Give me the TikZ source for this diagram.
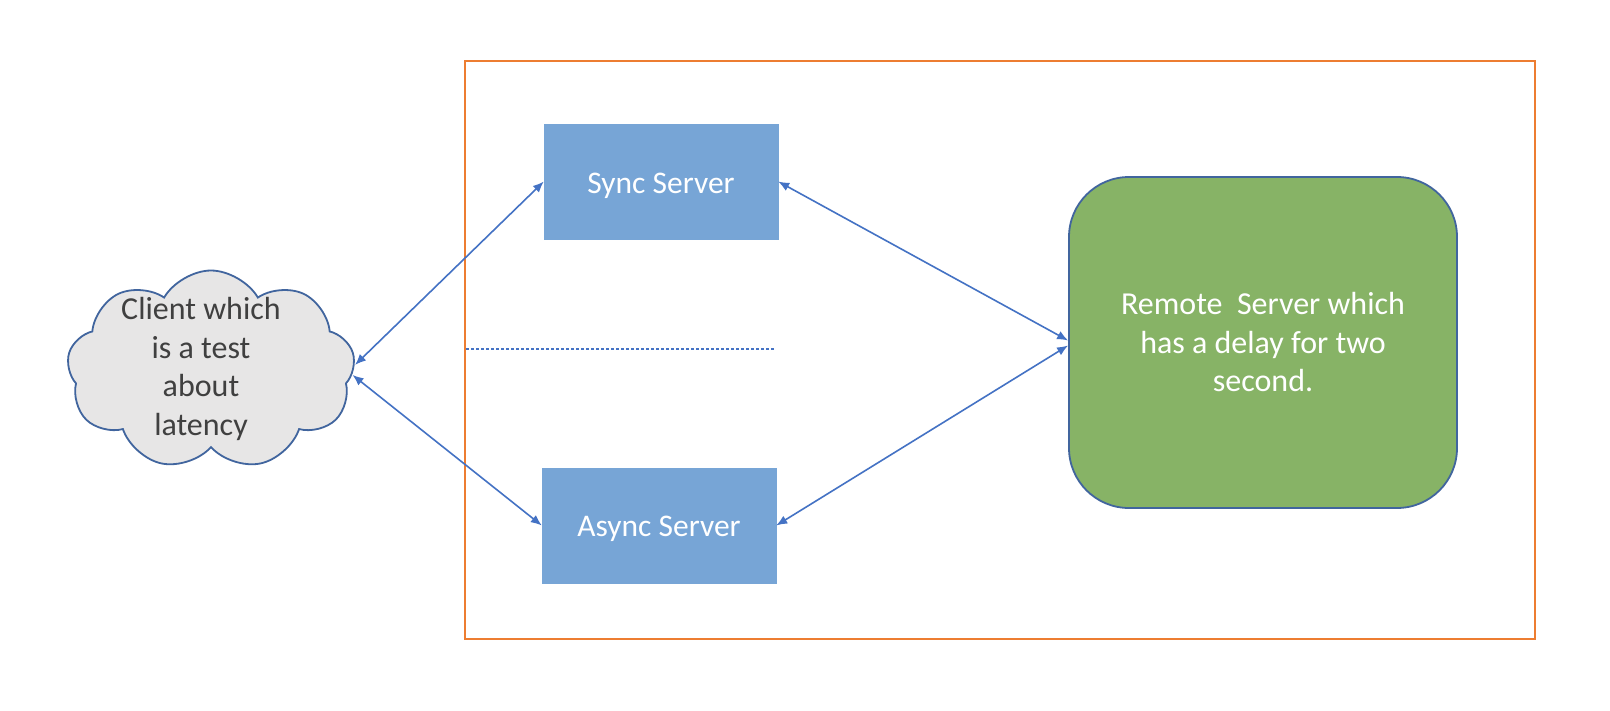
\documentclass[tikz,border=0pt]{standalone}
\usepackage{fontspec}
\setmainfont{Carlito}
\usetikzlibrary{shapes.symbols,arrows.meta,calc}
\definecolor{frameorange}{HTML}{ED7D31}
\definecolor{linkblue}{HTML}{4472C4}
\definecolor{boxblue}{HTML}{77A5D6}
\definecolor{boxgreen}{HTML}{87B366}
\definecolor{edgeblue}{HTML}{41659E}
\definecolor{cloudgray}{HTML}{E7E6E6}
\definecolor{textgray}{HTML}{404040}
\tikzset{
  serverbox/.style={draw=boxblue, fill=boxblue, minimum width=234pt, minimum height=115pt, inner sep=0pt, text=white, font=\fontsize{31.5}{38}\selectfont},
  link/.style={draw=linkblue, line width=1.6pt, {Latex[length=11pt,width=9pt]}-{Latex[length=11pt,width=9pt]}},
}
\begin{document}
\begin{tikzpicture}[x=1pt,y=-1pt]
\useasboundingbox[fill=white] (0,0) rectangle (1610,710);
\node[draw=frameorange, line width=1.8pt, minimum width=1070pt, minimum height=578pt, inner sep=0pt] (frame) at (1000,350) {};
\node[serverbox] (sync) at (661,181.5) {};
\node[text=white, font=\fontsize{31.5}{38}\selectfont] (synctext) at (661,185.5) {Sync Server};
\node[serverbox] (async) at (659,525.5) {};
\node[text=white, font=\fontsize{31.5}{38}\selectfont] (asynctext) at (659,528.5) {Async Server};
\node[draw=edgeblue, line width=1.8pt, fill=boxgreen, rounded corners=60pt, minimum width=388pt, minimum height=331pt, inner sep=0pt, text=white, align=center, font=\fontsize{32}{38.5}\selectfont] (remote) at (1263,342.5) {Remote\ \ Server which\\has a delay for two\\second.};
\node[cloud, cloud puffs=9, cloud puff arc=120, aspect=1.45, draw=edgeblue, line width=1.8pt, fill=cloudgray, minimum width=288pt, minimum height=199pt, inner sep=0pt] (client) at (211,370) {};
\node[text=textgray, align=center, font=\fontsize{32}{38.5}\selectfont] (clienttext) at (201,369) {Client which\\is a test\\about\\latency};
\coordinate (dotstart) at (466,349);
\coordinate (dotend) at (775,349);
\draw[linkblue, line width=1.8pt, dash pattern=on 2.5pt off 2.5pt] (dotstart) -- (dotend);
\draw[link] (client.2) -- (sync.west);
\draw[link] (client.-2) -- (async.west);
\draw[link] (sync.east) -- ($(remote.west)+(0,-2)$);
\draw[link] (async.east) -- ($(remote.west)+(0,3)$);
\end{tikzpicture}
\end{document}
